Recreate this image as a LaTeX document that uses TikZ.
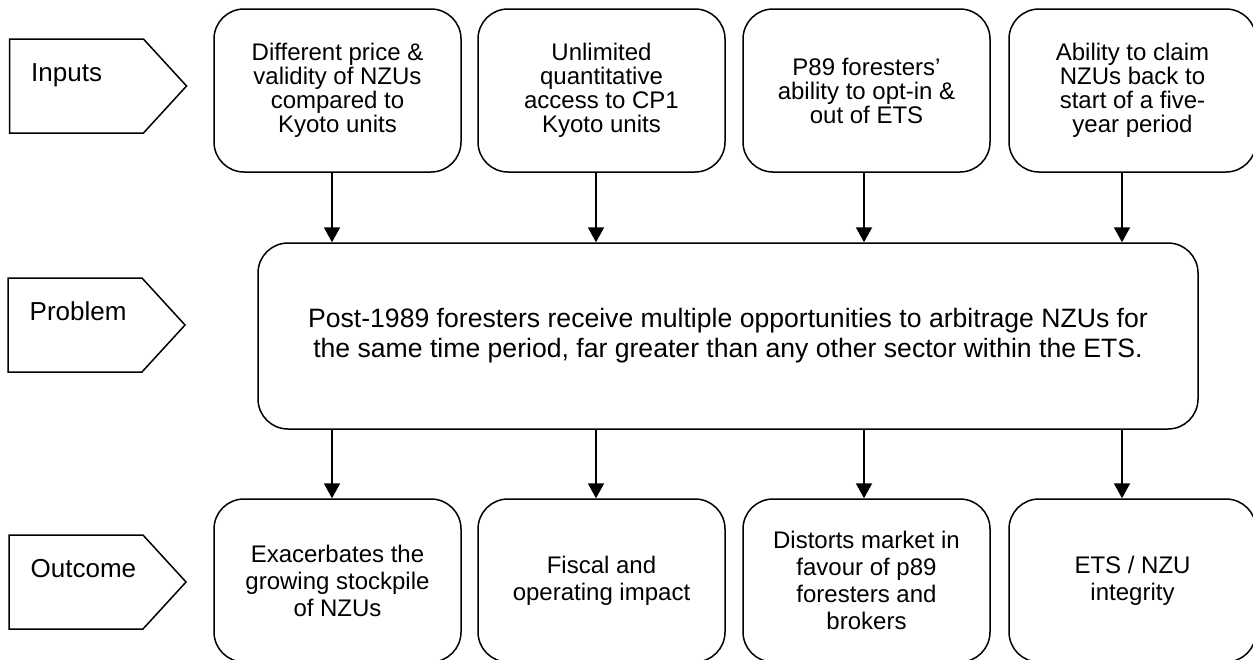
\documentclass[tikz,border=0pt]{standalone}
\usepackage{fontspec}
\setmainfont{Liberation Sans}
\usetikzlibrary{shapes.symbols,arrows.meta}

\tikzset{
  box/.style={draw, line width=0.75pt, rounded corners=15pt, minimum width=123.5pt,
    minimum height=81.5pt, align=center, font=\fontsize{12}{12}\selectfont},
  outbox/.style={box, font=\fontsize{12}{13.5}\selectfont},
  bigbox/.style={box, minimum width=470pt, minimum height=93pt,
    font=\fontsize{13.3}{15}\selectfont},
  tag/.style={draw, line width=0.75pt, signal, signal to=east, signal pointer angle=95,
    minimum width=88.5pt, minimum height=47pt, inner sep=0pt},
  tagtext/.style={anchor=base west, inner sep=0pt, font=\fontsize{13}{15}\selectfont},
  flow/.style={line width=1pt, -{Triangle[width=8pt,length=7.5pt]}}
}

\begin{document}
\begin{tikzpicture}[x=0.5pt, y=-0.5pt]
    \useasboundingbox (0,0) rectangle (1253,659);

    % row tags
    \node[tag] (inputs) at (76.5,86) {};
    \node[tag] (problem) at (75,325) {};
    \node[tag] (outcome) at (76,582) {};
    \node[tagtext] at ([xshift=11pt,yshift=2.25pt]inputs.west) {Inputs};
    \node[tagtext] at ([xshift=11pt,yshift=2.25pt]problem.west) {Problem};
    \node[tagtext] at ([xshift=11pt,yshift=2.25pt]outcome.west) {Outcome};

    % inputs
    \node[box] (in1) at (337.5,90.5) {Different price \&\\validity of NZUs\\compared to\\Kyoto units};
    \node[box] (in2) at (601.5,90.5) {Unlimited\\quantitative\\access to CP1\\Kyoto units};
    \node[box] (in3) at (866.5,90.5) {P89 foresters’\\ability to opt-in \&\\out of ETS};
    \node[box] (in4) at (1132.5,90.5) {Ability to claim\\NZUs back to\\start of a five-\\year period};

    % problem
    \node[bigbox] (prob) at (728,336) {Post-1989 foresters receive multiple opportunities to arbitrage NZUs for\\the same time period, far greater than any other sector within the ETS.};

    % outcomes
    \node[outbox] (out1) at (337.5,580.5) {Exacerbates the\\growing stockpile\\of NZUs};
    \node[outbox] (out2) at (601.5,580.5) {Fiscal and\\operating impact};
    \node[outbox] (out3) at (866.5,580.5) {Distorts market in\\favour of p89\\foresters and\\brokers};
    \node[outbox] (out4) at (1132.5,580.5) {ETS / NZU\\integrity};

    \foreach \a/\s in {in1/-2.75pt, in2/-2.75pt, in3/-1.25pt, in4/-5.25pt}
        \draw[flow] ([xshift=\s]\a.south) -- ([xshift=\s]\a.south |- prob.north);
    \foreach \a/\s in {out1/-2.75pt, out2/-2.75pt, out3/-1.25pt, out4/-5.25pt}
        \draw[flow] ([xshift=\s]\a.north |- prob.south) -- ([xshift=\s]\a.north);
\end{tikzpicture}
\end{document}
